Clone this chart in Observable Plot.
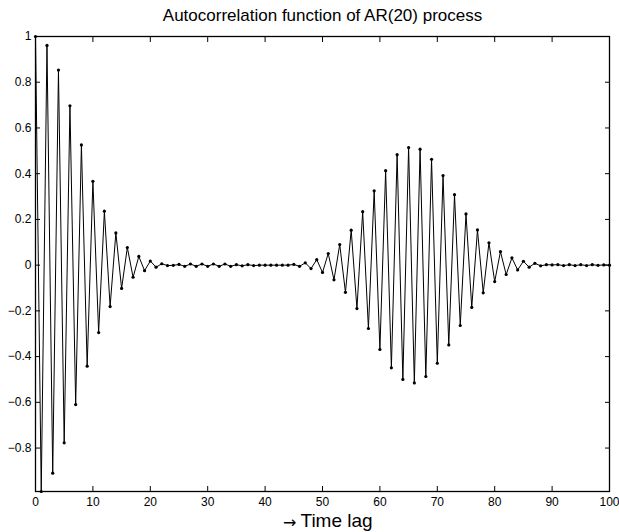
<!DOCTYPE html>
<html>
<head>
<meta charset="utf-8">
<script src="https://cdn.jsdelivr.net/npm/d3@7"></script>
<script src="https://cdn.jsdelivr.net/npm/@observablehq/plot@0.6"></script>
<style>
  html, body { margin: 0; padding: 0; background: #fff; }
  #chart svg { display: block; }
</style>
</head>
<body>
<div id="chart"></div>
<script>
const titleText = "Autocorrelation function of AR(20) process";
const xLabelArrow = "\u2192";
const xLabelText = "Time lag";
const xTicks = [0, 10, 20, 30, 40, 50, 60, 70, 80, 90, 100];
const yTicks = [-0.8, -0.6, -0.4, -0.2, 0, 0.2, 0.4, 0.6, 0.8, 1];
const lags = d3.range(0, 101);
const acf = [
  1, -0.99, 0.961, -0.910, 0.853, -0.777, 0.697, -0.610, 0.526, -0.442,
  0.367, -0.295, 0.236, -0.181, 0.141, -0.102, 0.077, -0.053, 0.038, -0.024,
  0.018, -0.009, 0.006, -0.002, -0.001, 0.003, -0.005, 0.005, -0.005, 0.005,
  -0.005, 0.005, -0.005, 0.005, -0.005, 0.002, -0.003, 0.002, -0.002, 0.000,
  0.000, 0.000, 0.000, 0.000, 0.000, 0.003, -0.005, 0.010, -0.015, 0.024,
  -0.032, 0.051, -0.064, 0.090, -0.119, 0.153, -0.190, 0.234, -0.277, 0.325,
  -0.369, 0.413, -0.449, 0.483, -0.500, 0.514, -0.515, 0.507, -0.487, 0.463,
  -0.429, 0.392, -0.349, 0.308, -0.264, 0.224, -0.185, 0.154, -0.121, 0.098,
  -0.072, 0.059, -0.041, 0.032, -0.021, 0.017, -0.009, 0.008, -0.003, 0.002,
  0.001, 0.002, -0.002, 0.002, -0.002, 0.002, -0.002, 0.002, -0.001, 0.001,
  0.000
];

const data = lags.map((lag, i) => ({lag, r: acf[i]}));
const fmt = d3.format("");

const chart = Plot.plot({
  width: 619,
  height: 532,
  marginLeft: 35,
  marginRight: 10,
  marginTop: 36,
  marginBottom: 41,
  style: {fontFamily: "'Liberation Sans', Arial, Helvetica, sans-serif", fontSize: "12px", color: "#000", background: "#fff"},
  x: {domain: [0, 100]},
  y: {domain: [-0.99, 1]},
  marks: [
    Plot.line(data, {x: "lag", y: "r", stroke: "#000", strokeWidth: 1}),
    Plot.dot(data, {x: "lag", y: "r", fill: "#000", r: 1.6, stroke: null}),
    Plot.axisX(xTicks, {anchor: "bottom", tickSize: -5, tickPadding: 11, tickFormat: fmt, label: null, fontSize: 12}),
    Plot.axisX(xTicks, {anchor: "top", tickSize: -5, tickFormat: () => "", label: null}),
    Plot.axisY(yTicks, {anchor: "left", tickSize: -5, tickPadding: 9, tickFormat: fmt, label: null, fontSize: 12}),
    Plot.axisY(yTicks, {anchor: "right", tickSize: -5, tickFormat: () => "", label: null}),
    Plot.frame({stroke: "#000", strokeWidth: 1.3}),
    Plot.text([titleText], {frameAnchor: "top", lineAnchor: "bottom", dy: -16, fontSize: 17, fill: "#000"}),
    Plot.text([xLabelText], {frameAnchor: "bottom", textAnchor: "start", lineAnchor: "top", dx: -22, dy: 22, fontSize: 19, fill: "#000"}),
    Plot.text([xLabelArrow], {frameAnchor: "bottom", textAnchor: "end", lineAnchor: "top", dx: -26, dy: 25, fontSize: 16, fontFamily: "'DejaVu Sans', sans-serif", fill: "#000"})
  ]
});

document.getElementById("chart").appendChild(chart);
</script>
</body>
</html>
